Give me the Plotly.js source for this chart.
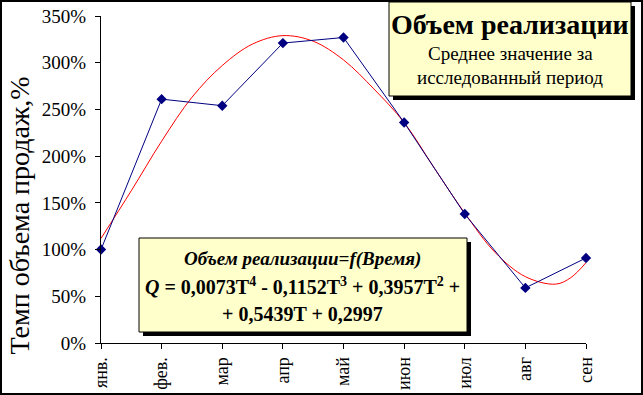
<!DOCTYPE html>
<html>
<head>
<meta charset="utf-8">
<script src="https://cdn.plot.ly/plotly-3.0.1.min.js"></script>
<style>
  html, body { margin: 0; padding: 0; background: #fff; }
  #wrap { position: relative; width: 643px; height: 395px; }
  #chart { width: 643px; height: 395px; }
  #frame { position: absolute; left: 0; top: 0; width: 643px; height: 395px;
           box-sizing: border-box; border: 2px solid #000; pointer-events: none; }
</style>
</head>
<body>
<div id="wrap"><div id="chart"></div><div id="frame"></div></div>
<script>
// ---- data ----
const months = ['янв.', 'фев.', 'мар', 'апр', 'май', 'июн', 'июл', 'авг', 'сен'];
const salesRate = [100, 261, 254, 321, 327, 236, 138, 59, 91];          // %
const trendX = [0, 0.5, 1, 1.5, 2, 2.5, 3, 3.5, 4, 4.5, 5, 5.5, 6, 6.5, 7, 7.5, 7.75, 8];
const trendY = [112, 163, 216, 263, 297, 320, 329, 323, 303, 272, 236, 187, 139, 97, 71, 63, 70, 86];
const yTicks = [0, 50, 100, 150, 200, 250, 300, 350];

const titleText = 'Объем реализации';
const subtitle1 = 'Среднее значение за';
const subtitle2 = 'исследованный период';
const formula1 = '<i>Объем реализации=f(Время)</i>';
const formula2 = '<i>Q</i> = 0,0073T<sup>4</sup> - 0,1152T<sup>3</sup> + 0,3957T<sup>2</sup> +';
const formula3 = '+ 0,5439T + 0,2997';
const yTitle = 'Темп объема продаж,%';

// ---- layout helpers (pixel -> paper) ----
const W = 643, H = 395, ML = 101, MR = 57, MT = 16, MB = 52;
const PW = W - ML - MR, PH = H - MT - MB;
const X = px => (px - ML) / PW;
const Y = py => (H - MB - py) / PH;
const serif = 'Liberation Serif';

function box(x0, y0, x1, y1, sh) {
  return [
    {type: 'rect', xref: 'paper', yref: 'paper', layer: 'above',
     x0: X(x0 + sh), x1: X(x1 + sh), y0: Y(y0 + sh), y1: Y(y1 + sh),
     fillcolor: '#000', line: {width: 0}},
    {type: 'rect', xref: 'paper', yref: 'paper', layer: 'above',
     x0: X(x0), x1: X(x1), y0: Y(y0), y1: Y(y1),
     fillcolor: '#FFFFCC', line: {color: '#000', width: 1}}
  ];
}
function label(text, px, py, size, weight, extra) {
  return Object.assign({text: text, xref: 'paper', yref: 'paper', x: X(px), y: Y(py),
    xanchor: 'center', yanchor: 'middle', showarrow: false,
    font: {family: serif, size: size, color: '#000', weight: weight || 'normal'}}, extra || {});
}

const idx = months.map((m, i) => i);

const traces = [
  {x: trendX, y: trendY, type: 'scatter', mode: 'lines', line: {color: '#FF0000', width: 1, shape: 'spline', smoothing: 1},
   hoverinfo: 'skip', cliponaxis: false},
  {x: idx, y: salesRate, type: 'scatter', mode: 'lines+markers',
   line: {color: '#000080', width: 1}, marker: {symbol: 'diamond', size: 8, color: '#000080'},
   cliponaxis: false}
];

const layout = {
  width: W, height: H,
  margin: {l: ML, r: MR, t: MT, b: MB, pad: 0},
  paper_bgcolor: '#fff', plot_bgcolor: '#fff',
  font: {family: serif, color: '#000'},
  showlegend: false,
  xaxis: {
    range: [0, 8], tickmode: 'array', tickvals: idx, ticktext: months,
    tickangle: -90, ticks: 'outside', ticklen: 5, tickcolor: '#000',
    showline: true, linecolor: '#000', linewidth: 1, showgrid: false, zeroline: false,
    tickfont: {family: serif, size: 18, color: '#000'}, ticklabelstandoff: 1
  },
  yaxis: {
    range: [0, 350], tickmode: 'array', tickvals: yTicks, ticktext: yTicks.map(v => v + '%'),
    ticks: 'outside', ticklen: 5, tickcolor: '#000',
    showline: true, linecolor: '#000', linewidth: 1, showgrid: false, zeroline: false,
    tickfont: {family: serif, size: 19, color: '#000'}, ticklabelstandoff: 5
  },
  shapes: [].concat(box(389, 2, 631, 96, 4), box(139, 238, 467, 332, 4)),
  annotations: [
    label(titleText, 510, 24, 28, 'bold'),
    label(subtitle1, 510, 53, 19),
    label(subtitle2, 510, 77, 19),
    label(formula1, 302, 259, 19, 'bold'),
    label(formula2, 302, 286, 20, 'bold'),
    label(formula3, 302, 314, 20, 'bold'),
    label(yTitle, 18.5, 216, 28, 'normal', {textangle: -90})
  ]
};

Plotly.newPlot('chart', traces, layout, {staticPlot: true, displayModeBar: false});
</script>
</body>
</html>
